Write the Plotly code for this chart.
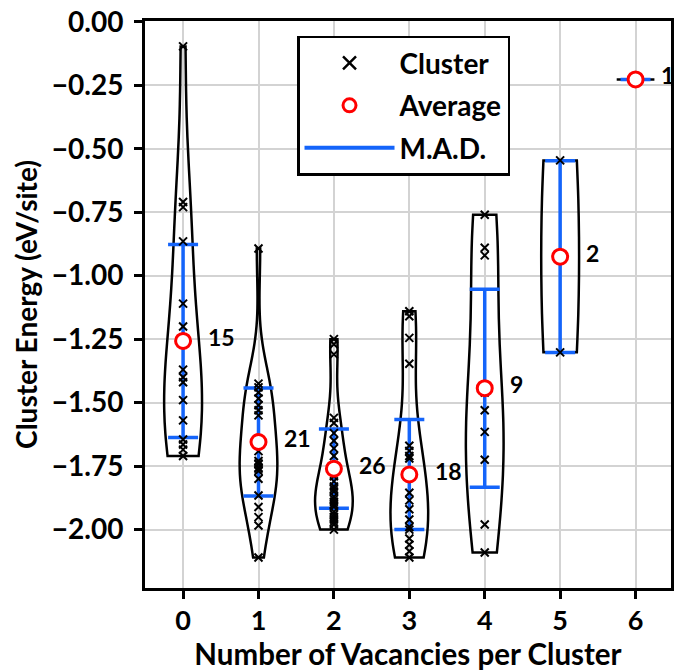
import numpy as np
import plotly.graph_objects as go

# ---------------- data ----------------
categories = [0, 1, 2, 3, 4, 5, 6]
counts = [15, 21, 26, 18, 9, 2, 1]

cluster_0 = [-0.097, -0.71, -0.73, -0.865, -1.11, -1.20, -1.37, -1.40, -1.42,
             -1.49, -1.57, -1.645, -1.665, -1.685, -1.71]
cluster_1 = [-0.893, -1.425, -1.44, -1.46, -1.484, -1.51, -1.53, -1.55, -1.691,
             -1.73, -1.74, -1.743, -1.756, -1.76, -1.769, -1.80, -1.866, -1.911,
             -1.951, -1.984, -2.11]
cluster_2 = [-1.25, -1.27, -1.31, -1.56, -1.58, -1.62, -1.65, -1.68, -1.71, -1.79,
             -1.81, -1.83, -1.84, -1.85, -1.87, -1.88, -1.89, -1.90, -1.91, -1.93,
             -1.94, -1.95, -1.96, -1.97, -1.98, -2.00]
cluster_3 = [-1.14, -1.16, -1.245, -1.347, -1.67, -1.69, -1.71, -1.72, -1.855,
             -1.885, -1.92, -1.96, -1.99, -2.00, -2.035, -2.06, -2.085, -2.11]
cluster_4 = [-0.76, -0.89, -0.92, -1.46, -1.53, -1.615, -1.725, -1.98, -2.09]
cluster_5 = [-0.546, -1.302]
cluster_6 = [-0.227]
clusters = [cluster_0, cluster_1, cluster_2, cluster_3, cluster_4, cluster_5, cluster_6]

averages = [-1.257, -1.655, -1.76, -1.783, -1.443, -0.925, -0.227]
mads = [0.38, 0.213, 0.156, 0.217, 0.39, 0.378, 0.0]

y_tick_vals = [0.0, -0.25, -0.5, -0.75, -1.0, -1.25, -1.5, -1.75, -2.0]
y_tick_text = ["0.00", "\u22120.25", "\u22120.50", "\u22120.75", "\u22121.00",
               "\u22121.25", "\u22121.50", "\u22121.75", "\u22122.00"]
x_tick_text = ["0", "1", "2", "3", "4", "5", "6"]

# ---------------- style ----------------
BLUE = "#1464fa"
RED = "#ff0000"
FONT = "Lato"
VIOLIN_WIDTH = 0.5

fig = go.Figure()

# violins (matplotlib-like: Scott bandwidth, cut at data extremes)
for k, vals in zip(categories, clusters):
    arr = np.asarray(vals, dtype=float)
    if len(arr) >= 2:
        bw = float(np.std(arr, ddof=1) * len(arr) ** (-1.0 / 5.0))
        fig.add_trace(go.Violin(
            x=[k] * len(arr), y=arr, width=VIOLIN_WIDTH, bandwidth=bw,
            spanmode="hard", points=False, box_visible=False,
            meanline_visible=False, line=dict(color="black", width=2.5),
            fillcolor="rgba(0,0,0,0)", showlegend=False, hoverinfo="skip"))
    else:
        fig.add_trace(go.Scatter(
            x=[k - VIOLIN_WIDTH / 2, k + VIOLIN_WIDTH / 2], y=[arr[0], arr[0]],
            mode="lines", line=dict(color="black", width=2.5),
            showlegend=False, hoverinfo="skip"))

# M.A.D. bars
fig.add_trace(go.Scatter(
    x=categories, y=averages, mode="markers",
    marker=dict(size=1, color="rgba(0,0,0,0)"),
    error_y=dict(type="data", array=mads, symmetric=True, color=BLUE,
                 thickness=3.5, width=15),
    showlegend=False, hoverinfo="skip"))

# cluster points
px, py = [], []
for k, vals in zip(categories, clusters):
    px += [k] * len(vals)
    py += list(vals)
fig.add_trace(go.Scatter(
    x=px, y=py, mode="markers",
    marker=dict(symbol="x-thin", size=8, color="black",
                line=dict(color="black", width=2)),
    showlegend=False, hoverinfo="skip"))

# averages
fig.add_trace(go.Scatter(
    x=categories, y=averages, mode="markers",
    marker=dict(symbol="circle", size=15, color="white",
                line=dict(color=RED, width=3)),
    showlegend=False, hoverinfo="skip"))

# legend entries
fig.add_trace(go.Scatter(
    x=[None], y=[None], mode="markers", name="Cluster", legendgroup="a",
    marker=dict(symbol="x-thin", size=13, color="black",
                line=dict(color="black", width=2.5))))
fig.add_trace(go.Scatter(
    x=[None], y=[None], mode="markers", name="Average", legendgroup="b",
    marker=dict(symbol="circle", size=13, color="white",
                line=dict(color=RED, width=3))))
fig.add_trace(go.Scatter(
    x=[None], y=[None], mode="lines", name="M.A.D.", legendgroup="c",
    line=dict(color=BLUE, width=4)))

# count labels
for k, avg, n in zip(categories, averages, counts):
    fig.add_annotation(x=k + 0.31, y=avg, text=str(n), showarrow=False,
                       xanchor="left", yanchor="middle", yshift=4,
                       font=dict(family=FONT, size=23, color="black", weight="bold"))

fig.update_layout(
    width=678, height=671,
    margin=dict(l=145, r=4, t=15, b=83),
    paper_bgcolor="white", plot_bgcolor="white",
    font=dict(family=FONT, size=27, color="black", weight="bold"),
    violinmode="overlay",
    showlegend=True,
    legend=dict(x=0.289, y=0.974, xanchor="left", yanchor="top",
                bgcolor="white", bordercolor="black", borderwidth=2.5,
                font=dict(family=FONT, size=28, color="black", weight="bold"),
                tracegroupgap=3, itemwidth=90),
)

fig.update_xaxes(
    range=[-0.505, 6.47], tickvals=categories, ticktext=x_tick_text,
    showgrid=True, gridcolor="#d3d3d3", gridwidth=1.5, zeroline=False,
    showline=True, linecolor="black", linewidth=3, mirror=True,
    ticks="outside", ticklen=8, tickwidth=3, tickcolor="black",
    ticklabelstandoff=-1,
    tickfont=dict(family=FONT, size=27, color="black", weight="bold"),
    title=dict(text="Number of Vacancies per Cluster", standoff=8,
               font=dict(family=FONT, size=29.5, color="black", weight="bold")),
)
fig.update_yaxes(
    range=[-2.23, 0.003], tickvals=y_tick_vals, ticktext=y_tick_text,
    showgrid=True, gridcolor="#d3d3d3", gridwidth=1.5, zeroline=False,
    showline=True, linecolor="black", linewidth=3, mirror=True,
    ticks="outside", ticklen=8, tickwidth=3, tickcolor="black",
    ticklabelstandoff=5, ticklabeloverflow="allow",
    tickfont=dict(family=FONT, size=28, color="black", weight="bold"),
    title=dict(text="Cluster Energy (eV/site)", standoff=6,
               font=dict(family=FONT, size=28, color="black", weight="bold")),
)

fig.write_html("out.html")
